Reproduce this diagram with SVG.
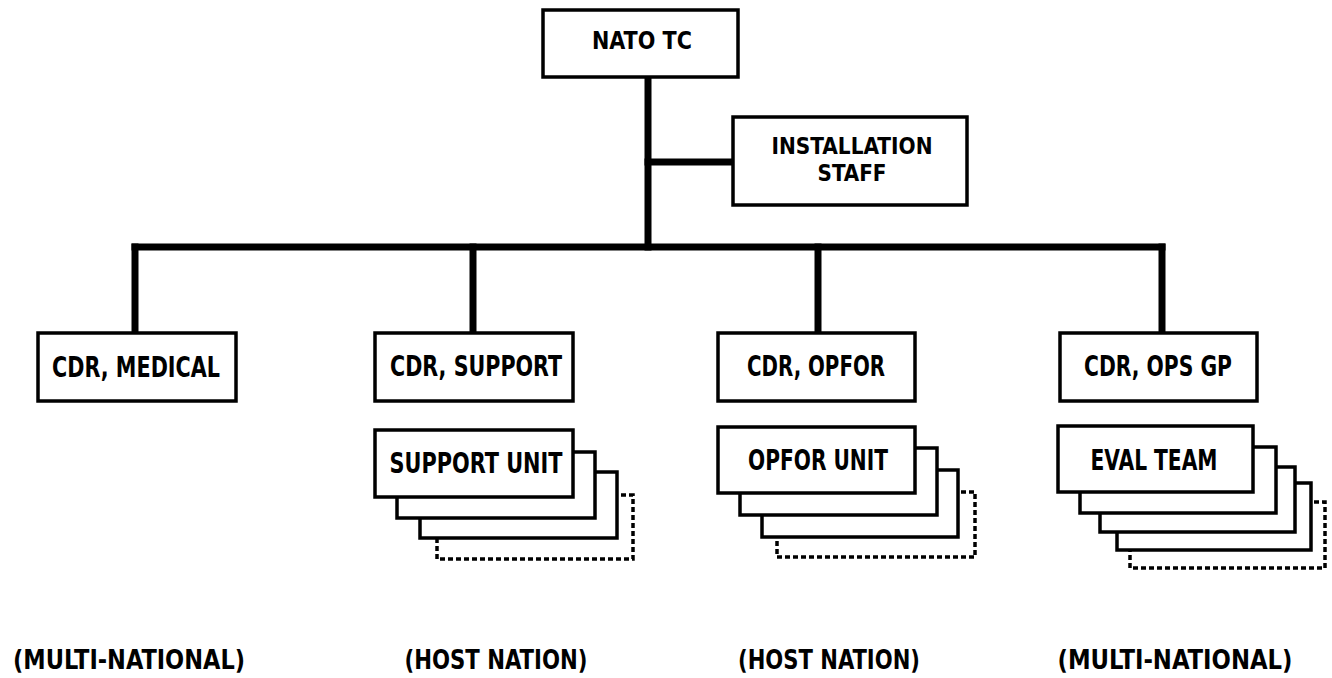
<svg xmlns="http://www.w3.org/2000/svg" width="1332" height="678" viewBox="0 0 1332 678">
<style>
.box{fill:#fff;stroke:#000;stroke-width:3.5}
.dot{fill:none;stroke:#000;stroke-width:3.5;stroke-dasharray:5 3}
.ln{stroke:#000;stroke-width:7;fill:none;stroke-linecap:square}
text{font-family:"DejaVu Sans Condensed","DejaVu Sans","Liberation Sans",sans-serif;font-weight:bold;fill:#000;font-size:29px;text-anchor:middle}
.sm{font-size:25px}
.st{font-size:23px}
.lbl{font-size:27px}
</style>
<rect width="1332" height="678" fill="#fff"/>
<g id="connectors">
<line class="ln" x1="648" y1="77" x2="648" y2="247"/>
<line class="ln" x1="648" y1="162" x2="733" y2="162"/>
<line class="ln" x1="135" y1="247" x2="1162" y2="247"/>
<line class="ln" x1="135" y1="247" x2="135" y2="333"/>
<line class="ln" x1="473" y1="247" x2="473" y2="333"/>
<line class="ln" x1="818" y1="247" x2="818" y2="333"/>
<line class="ln" x1="1162" y1="247" x2="1162" y2="333"/>
</g>
<g id="nato-tc">
<rect class="box" x="543" y="10" width="195" height="67"/>
<text class="sm" x="642" y="49" textLength="100" lengthAdjust="spacingAndGlyphs">NATO TC</text>
</g>
<g id="installation-staff">
<rect class="box" x="733" y="117" width="234" height="88"/>
<text class="st" x="852" y="154" textLength="161" lengthAdjust="spacingAndGlyphs">INSTALLATION</text>
<text class="st" x="852" y="181" textLength="69" lengthAdjust="spacingAndGlyphs">STAFF</text>
</g>
<g id="cdr-medical">
<rect class="box" x="38" y="333" width="198" height="68"/>
<text x="136" y="377" textLength="168" lengthAdjust="spacingAndGlyphs">CDR, MEDICAL</text>
</g>
<g id="cdr-support">
<rect class="box" x="375" y="333" width="198" height="68"/>
<text x="476" y="376" textLength="172" lengthAdjust="spacingAndGlyphs">CDR, SUPPORT</text>
</g>
<g id="cdr-opfor">
<rect class="box" x="718" y="333" width="197" height="68"/>
<text x="816" y="376" textLength="138" lengthAdjust="spacingAndGlyphs">CDR, OPFOR</text>
</g>
<g id="cdr-ops-gp">
<rect class="box" x="1060" y="333" width="197" height="68"/>
<text x="1158" y="376" textLength="148" lengthAdjust="spacingAndGlyphs">CDR, OPS GP</text>
</g>
<g id="support-unit">
<rect class="dot" x="437" y="495" width="196" height="64"/>
<rect class="box" x="420" y="472" width="197" height="66"/>
<rect class="box" x="397" y="452" width="198" height="66"/>
<rect class="box" x="375" y="430" width="198" height="67"/>
<text x="476" y="473" textLength="173" lengthAdjust="spacingAndGlyphs">SUPPORT UNIT</text>
</g>
<g id="opfor-unit">
<rect class="dot" x="777" y="492" width="198" height="65"/>
<rect class="box" x="762" y="470" width="196" height="67"/>
<rect class="box" x="740" y="448" width="197" height="67"/>
<rect class="box" x="718" y="427" width="197" height="66"/>
<text x="818" y="470" textLength="140" lengthAdjust="spacingAndGlyphs">OPFOR UNIT</text>
</g>
<g id="eval-team">
<rect class="dot" x="1130" y="502" width="195" height="66"/>
<rect class="box" x="1117" y="483" width="194" height="67"/>
<rect class="box" x="1100" y="467" width="195" height="65"/>
<rect class="box" x="1080" y="447" width="196" height="66"/>
<rect class="box" x="1058" y="426" width="195" height="66"/>
<text x="1154" y="470" textLength="127" lengthAdjust="spacingAndGlyphs">EVAL TEAM</text>
</g>
<g id="labels">
<text class="lbl" x="129" y="669" textLength="232" lengthAdjust="spacingAndGlyphs">(MULTI-NATIONAL)</text>
<text class="lbl" x="496" y="669" textLength="183" lengthAdjust="spacingAndGlyphs">(HOST NATION)</text>
<text class="lbl" x="829" y="669" textLength="182" lengthAdjust="spacingAndGlyphs">(HOST NATION)</text>
<text class="lbl" x="1175" y="669" textLength="235" lengthAdjust="spacingAndGlyphs">(MULTI-NATIONAL)</text>
</g>
</svg>
